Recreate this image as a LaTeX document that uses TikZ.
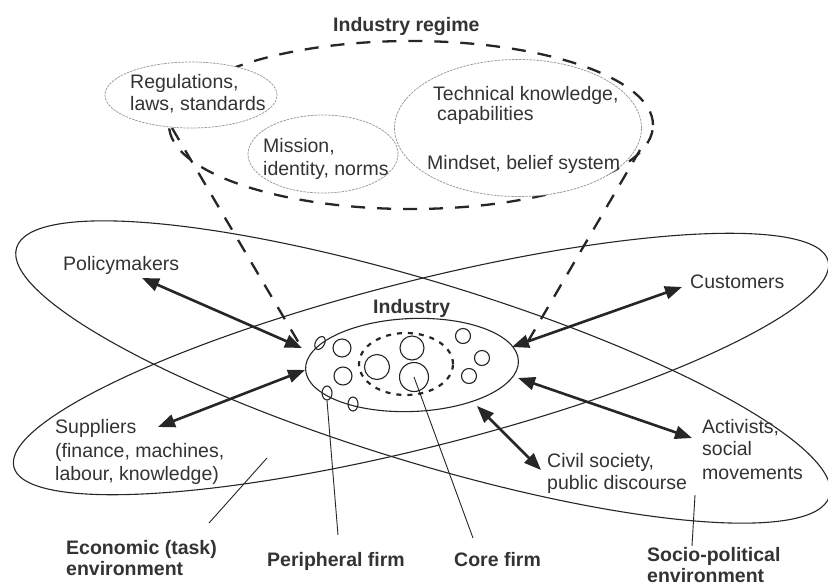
\documentclass[tikz,border=0pt]{standalone}
\usepackage{fontspec}
\setmainfont{Liberation Sans}
\usetikzlibrary{arrows.meta,shapes.geometric}
\definecolor{ink}{HTML}{262626}
\definecolor{txt}{HTML}{333333}
\begin{document}
\begin{tikzpicture}[x=1pt,y=-1pt,
  txtn/.style={inner sep=0pt, anchor=base west, text=txt, font=\fontsize{19.5}{22}\selectfont},
  btxt/.style={inner sep=0pt, anchor=base west, text=txt, font=\fontsize{19.5}{22}\selectfont\bfseries},
  regimedash/.style={line width=2.3pt, draw=ink, dash pattern=on 14pt off 12pt},
  thinell/.style={ellipse, draw=gray!80, line width=0.75pt, dash pattern=on 2.5pt off 1pt, fill=white, inner sep=0pt},
  env/.style={draw=ink, line width=1.1pt},
  dbl/.style={line width=2.6pt, draw=ink, >={Triangle[length=17pt,width=13pt]}, <->},
  firm/.style={draw=ink, line width=1.1pt, inner sep=0pt},
  ptr/.style={draw=ink, line width=0.9pt}]
\fill[white] (0,0) rectangle (828,587);
\useasboundingbox (0,0) rectangle (828,587);

% environments
\draw[env, rotate around={-17:(423,372)}] (423,372) ellipse [x radius=425pt, y radius=90pt];
\draw[env, rotate around={14.2:(421,364)}] (421,364) ellipse [x radius=420pt, y radius=83pt];

% industry regime
\draw[regimedash] (411,125) ellipse [x radius=242pt, y radius=84pt];
\coordinate (rL) at (172,128);
\coordinate (iL) at (303,350);
\coordinate (rR) at (640,150);
\coordinate (iR) at (527,343);
\draw[regimedash] (rL) -- (iL);
\draw[regimedash] (rR) -- (iR);

\node[thinell, minimum width=172pt, minimum height=66pt] (reg) at (191,95) {};
\node[thinell, minimum width=150pt, minimum height=78pt] (mis) at (323,154) {};
\node[thinell, minimum width=247pt, minimum height=137pt] (tech) at (518,128) {};

% industry
\node[firm, ellipse, minimum width=213pt, minimum height=93pt, rotate=2.3] (ind) at (412,365) {};
\node[draw=ink, line width=2.2pt, dash pattern=on 5pt off 6pt, ellipse, minimum width=94pt, minimum height=62pt, inner sep=0pt] (core) at (406,364) {};
\node[firm, circle, minimum size=18pt] (c1) at (342,348) {};
\node[firm, circle, minimum size=18pt] (c2) at (343,376) {};
\node[firm, circle, minimum size=25pt] (c3) at (377,367) {};
\node[firm, circle, minimum size=24pt] (c4) at (412,348) {};
\node[firm, circle, minimum size=29pt] (c5) at (414,377) {};
\node[firm, circle, minimum size=15pt] (c6) at (463,336) {};
\node[firm, circle, minimum size=15pt] (c7) at (482,358) {};
\node[firm, circle, minimum size=15pt] (c8) at (469,376) {};
\node[firm, ellipse, minimum width=9pt, minimum height=14pt, rotate=-30] (p1) at (320,343) {};
\node[firm, ellipse, minimum width=10pt, minimum height=14pt] (p2) at (327,393) {};
\node[firm, ellipse, minimum width=10pt, minimum height=14pt] (p3) at (353,404) {};

% arrows
\coordinate (polA) at (142,278);
\coordinate (polB) at (302,348);
\coordinate (supA) at (158,427);
\coordinate (supB) at (305,370);
\coordinate (cusA) at (682,287);
\coordinate (cusB) at (512,347);
\coordinate (actA) at (692,438);
\coordinate (actB) at (518,378);
\coordinate (civA) at (541,470);
\coordinate (civB) at (477,406);
\draw[dbl] (polA) -- (polB);
\draw[dbl] (supA) -- (supB);
\draw[dbl] (cusA) -- (cusB);
\draw[dbl] (actA) -- (actB);
\draw[dbl] (civA) -- (civB);

% pointers
\coordinate (ecoA) at (267,458);
\coordinate (ecoB) at (209,523);
\coordinate (perEnd) at (338,535);
\coordinate (coreEnd) at (473,538);
\coordinate (socA) at (695,495);
\coordinate (socB) at (692,546);
\draw[ptr] (ecoA) -- (ecoB);
\draw[ptr] (p2.south) -- (perEnd);
\draw[ptr] (c5.center) -- (coreEnd);
\draw[ptr] (socA) -- (socB);

% texts
\node[btxt] (tIR) at (333,31) {Industry regime};
\node[txtn] (tReg1) at (130,88) {Regulations,};
\node[txtn] (tReg2) at (130,110) {laws, standards};
\node[txtn] (tTech1) at (433,100) {Technical knowledge,};
\node[txtn] (tTech2) at (437,120) {capabilities};
\node[txtn] (tMind) at (427,169) {Mindset, belief system};
\node[txtn] (tMis1) at (263,152) {Mission,};
\node[txtn] (tMis2) at (263,175) {identity, norms};
\node[txtn] (tPol) at (63,270) {Policymakers};
\node[btxt] (tInd) at (373,313) {Industry};
\node[txtn] (tCus) at (690,288) {Customers};
\node[txtn] (tSup1) at (55,433) {Suppliers};
\node[txtn] (tSup2) at (55,457) {(finance, machines,};
\node[txtn] (tSup3) at (55,480) {labour, knowledge)};
\node[txtn] (tCiv1) at (547,467) {Civil society,};
\node[txtn] (tCiv2) at (547,489) {public discourse};
\node[txtn] (tAct1) at (702,433) {Activists,};
\node[txtn] (tAct2) at (702,455) {social};
\node[txtn] (tAct3) at (702,479) {movements};
\node[btxt] (tEco1) at (66,554) {Economic (task)};
\node[btxt] (tEco2) at (66,575) {environment};
\node[btxt] (tPer) at (267,566) {Peripheral firm};
\node[btxt] (tCore) at (454,566) {Core firm};
\node[btxt] (tSoc1) at (647,561) {Socio-political};
\node[btxt] (tSoc2) at (647,582) {environment};
\end{tikzpicture}
\end{document}
